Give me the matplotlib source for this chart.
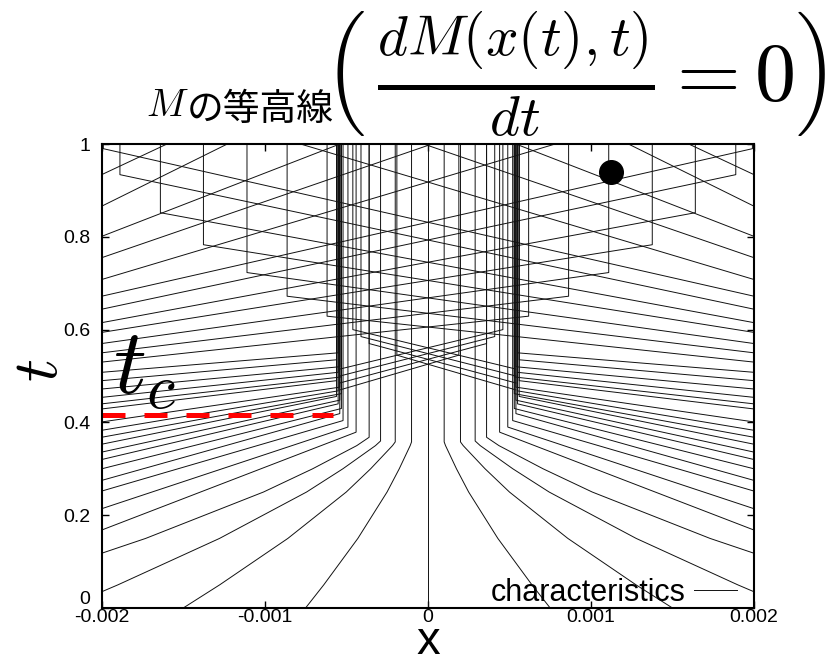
import numpy as np
import matplotlib.pyplot as plt
from matplotlib.lines import Line2D

plt.rcParams["mathtext.fontset"] = "cm"
plt.rcParams["axes.unicode_minus"] = False
plt.rcParams["font.family"] = ["Liberation Sans", "DejaVu Sans"]

prof_t = [0.0, 0.05, 0.10, 0.15, 0.20, 0.25, 0.30, 0.35, 0.40, 0.45, 0.50, 0.55, 0.60]
prof_g = [1.0, 0.85, 0.71, 0.57, 0.45, 0.33, 0.23, 0.14, 0.07, 0.025, 0.008, 0.002, 0.0]

# left half: characteristics that run into the shock and stop (right half is the mirror)
low_x0 = [-0.00075, -0.0015] + [-0.002] * 19
low_t0 = [0.0, 0.0, 0.035, 0.118, 0.168, 0.214, 0.252, 0.275, 0.300, 0.320, 0.336,
          0.353, 0.368, 0.383, 0.401, 0.429, 0.440, 0.454, 0.472, 0.490, 0.508]
low_xc = [-0.00010, -0.00020, -0.00029, -0.00036, -0.00044, -0.00049, -0.00052,
          -0.00054, -0.00053, -0.00055, -0.00054, -0.00056, -0.00053, -0.00055,
          -0.00054, -0.00056, -0.00053, -0.00055, -0.00054, -0.00056, -0.00055]
low_tc = [0.358, 0.358, 0.360, 0.368, 0.379, 0.390, 0.404, 0.419, 0.430, 0.440, 0.448,
          0.456, 0.462, 0.468, 0.476, 0.490, 0.498, 0.508, 0.520, 0.535, 0.550]

# left edge characteristics that cross to the other side and stop there
cross_t0 = [0.530, 0.550, 0.570, 0.594, 0.615, 0.644, 0.672]
cross_xv = [0.000618, 0.000863, 0.001109, 0.001376, 0.00164, 0.001888, 0.00199]
cross_tv = [0.629, 0.672, 0.723, 0.783, 0.852, 0.934, 0.990]

# ones leaving from the shock itself
inner_xs = [-0.00054, -0.00054, -0.00054, -0.00054]
inner_ts = [0.470, 0.485, 0.500, 0.515]
inner_xv = [0.00019, 0.00036, 0.00041, 0.00046]
inner_tv = [0.545, 0.570, 0.585, 0.600]

# upper ones that reach t = 1
top_t0 = [0.708, 0.755, 0.801, 0.866, 0.934]
top_x1 = [0.00078, 0.000025, -0.00054, -0.00123, -0.0016]

tc_level = 0.417
dot_x, dot_t = 0.00112, 0.94

xticks = [-0.002, -0.001, 0, 0.001, 0.002]
xtick_labels = ["-0.002", "-0.001", "0", "0.001", "0.002"]
yticks = [0, 0.2, 0.4, 0.6, 0.8, 1]
ytick_labels = ["0", "0.2", "0.4", "0.6", "0.8", "1"]

fig = plt.figure(figsize=(8.32, 6.65), dpi=100)
ax = fig.add_axes([0.1222, 0.0857, 0.7841, 0.6977])

paths = []
for x0, t0, xc, tc in zip(low_x0, low_t0, low_xc, low_tc):
    if t0 < 0.15:
        # strongly bent ones follow the read profile
        tt = [t0] + [p for p in prof_t if t0 < p < tc] + [tc]
        g = np.interp(tt, prof_t, prof_g)
        b = (x0 - xc) / (g[0] - g[-1])
        xx = list(xc + b * (g - g[-1]))
    else:
        tt = [t0, tc]
        xx = [x0, xc]
    paths.append((xx + [xc], tt + [1.0]))
for t0, xv, tv in zip(cross_t0, cross_xv, cross_tv):
    paths.append(([-0.002, xv, xv], [t0, tv, 1.0]))
for xs, ts, xv, tv in zip(inner_xs, inner_ts, inner_xv, inner_tv):
    paths.append(([xs, xv, xv], [ts, tv, 1.0]))
for t0, x1 in zip(top_t0, top_x1):
    paths.append(([-0.002, x1], [t0, 1.0]))

lc = "#111111"
for xx, tt in paths:
    xx = np.array(xx)
    ax.plot(xx, tt, color=lc, lw=0.7)
    ax.plot(-xx, tt, color=lc, lw=0.7)
ax.plot([0, 0], [0, 1], color=lc, lw=0.7)

ax.plot([-0.002, -0.00058], [tc_level, tc_level], color="red", lw=3.6,
        dashes=(4.6, 3.8))
ax.text(-0.00193, 0.463, "$t_c$", fontsize=66)
ax.plot(dot_x, dot_t, "o", color="black", ms=17)

ax.set_xlim(-0.002, 0.002)
ax.set_ylim(0, 1)
ax.set_xticks(xticks)
ax.set_xticklabels(xtick_labels)
ax.set_yticks(yticks)
ax.set_yticklabels(ytick_labels)
ax.tick_params(direction="in", length=5, width=1, top=True, right=True,
               labelsize=14)
ax.tick_params(axis="x", pad=1)
ax.tick_params(axis="y", pad=8)
ax.get_yticklabels()[0].set_va("bottom")
for s in ax.spines.values():
    s.set_linewidth(1.5)

ax.set_xlabel("x", fontsize=34, va="baseline")
ax.xaxis.set_label_coords(0.5, -0.099)

fig.text(40 / 832, 1 - 370 / 665, "$t$", fontsize=46, rotation=90,
         ha="center", va="center")

ax.legend(handles=[Line2D([], [], color=lc, lw=0.7)], labels=["characteristics"],
          loc="lower right", bbox_to_anchor=(0.974, 0.0), frameon=False,
          markerfirst=False, fontsize=22, handlelength=1.4, handletextpad=0.3,
          borderaxespad=0.0, borderpad=0.0)

fig.text(146 / 832, 1 - 116 / 665, "$M$", fontsize=28, va="baseline")
fig.text(187 / 832, 1 - 120 / 665, "の等高線", fontsize=26.5, va="baseline",
         family=["Noto Sans CJK JP", "DejaVu Sans"])
fig.text(324 / 832, 1 - 74 / 665, r"$\left(\,\frac{dM(x(t),t)}{dt}=0\right)$",
         fontsize=59, va="center")

fig.savefig("out.png", dpi=100)
